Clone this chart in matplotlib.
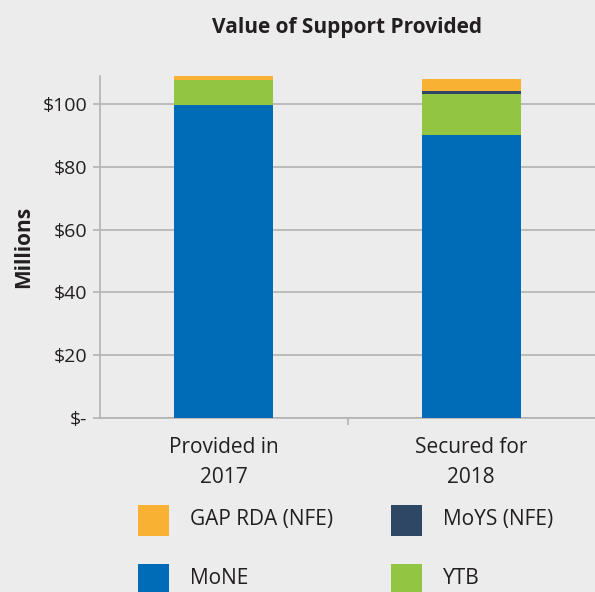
import matplotlib
matplotlib.use("Agg")
import matplotlib.pyplot as plt
from matplotlib.patches import Rectangle

categories = ["Provided in\n2017", "Secured for\n2018"]
series_names = ["MoNE", "YTB", "MoYS (NFE)", "GAP RDA (NFE)"]
mone = [99.7, 90.1]
ytb = [7.9, 13.1]
moys = [0.0, 0.9]
gap = [1.6, 3.9]
colors = {"MoNE": "#006bb6", "YTB": "#92c642", "MoYS (NFE)": "#2d4764", "GAP RDA (NFE)": "#f8b133"}
yticks = [0, 20, 40, 60, 80, 100]
ytick_labels = ["$-", "$20", "$40", "$60", "$80", "$100"]

plt.rcParams['font.family'] = ['Open Sans', 'DejaVu Sans']
W, H = 595, 592
txt = "#231f20"
bg = "#ebeceb"
fig = plt.figure(figsize=(W/100, H/100), dpi=100, facecolor=bg)
ax = fig.add_axes([100/W, 1-418/H, 495/W, 342/H], facecolor=bg)

x = list(range(len(categories)))
bottom = [0.0]*len(x)
for name, vals in [("MoNE", mone), ("YTB", ytb), ("MoYS (NFE)", moys), ("GAP RDA (NFE)", gap)]:
    ax.bar(x, vals, 0.4, bottom=bottom, color=colors[name], zorder=3)
    bottom = [b+v for b, v in zip(bottom, vals)]

ax.set_xlim(-0.5, 1.5)
ax.set_ylim(0, 109)
ax.set_yticks(yticks)
ax.set_yticklabels(ytick_labels, fontsize=14, color=txt)
ax.yaxis.grid(True, color="#b3b3b3", linewidth=1.2, zorder=0)
ax.set_xticks([0.5])
ax.set_xticklabels([""])
ax.tick_params(axis='x', length=5, color="#b3b3b3", width=1.2)
ax.tick_params(axis='y', length=5, color="#b3b3b3", width=1.2, pad=4)
for i, c in enumerate(categories):
    for j, line in enumerate(c.split("\n")):
        ax.annotate(line, xy=(i, 0), xycoords=('data', 'axes fraction'),
                    xytext=(0, -21 - 21.6*j), textcoords='offset points',
                    ha='center', va='center', fontsize=15, color=txt)
for s in ["top", "right"]:
    ax.spines[s].set_visible(False)
for s in ["left", "bottom"]:
    ax.spines[s].set_color("#b3b3b3")
    ax.spines[s].set_linewidth(1.2)
ax.set_ylabel("Millions", fontsize=15, fontweight='bold', color=txt, labelpad=6)
fig.text(347/W, 1-28/H, "Value of Support Provided", ha='center', va='center',
         fontsize=15, fontweight='bold', color=txt)

legend_items = [("GAP RDA (NFE)", 138, 520), ("MoYS (NFE)", 391, 520),
                ("MoNE", 138, 579), ("YTB", 391, 579)]
for name, lx, ly in legend_items:
    fig.add_artist(Rectangle((lx/W, 1-(ly+15.5)/H), 31/W, 31/H, transform=fig.transFigure,
                             facecolor=colors[name], edgecolor='none'))
    fig.text((lx+52)/W, 1-ly/H, name, ha='left', va='center', fontsize=15, color=txt)

fig.savefig("out.png", dpi=100, facecolor=bg)
